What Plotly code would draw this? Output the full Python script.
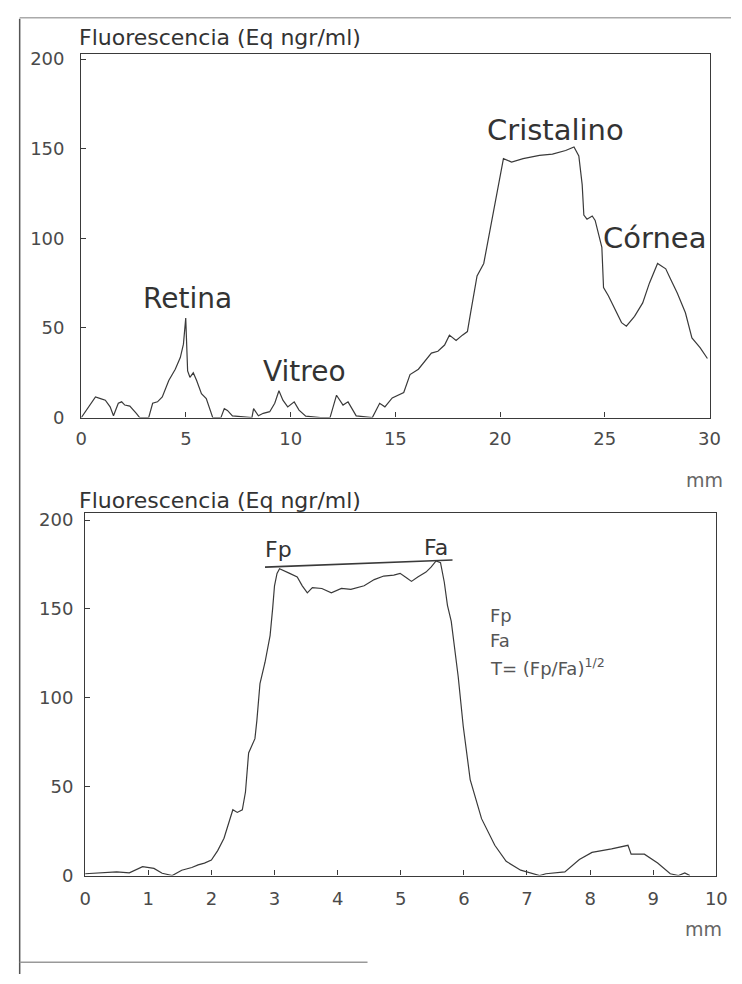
import plotly.graph_objects as go

# ---------------- data ----------------
# Upper scan: fluorescence along the eye axis (0-30 mm)
top_x = [0, 0.37, 0.68, 0.92, 1.15, 1.38, 1.54, 1.77, 1.93, 2.08, 2.32, 2.63, 2.79,
         3.22, 3.41, 3.64, 3.87, 4.18, 4.49, 4.73, 4.88, 4.99, 5.08, 5.19, 5.35, 5.51,
         5.74, 5.97, 6.28, 6.67, 6.83, 6.98, 7.22, 8.15, 8.23, 8.46, 8.69, 9.0, 9.24,
         9.44, 9.63, 9.86, 10.17, 10.4, 10.72, 11.42, 11.88, 12.19, 12.5, 12.74, 12.97,
         13.13, 13.9, 14.25, 14.5, 14.85, 15.4, 15.7, 16.1, 16.4, 16.72, 17.03, 17.35,
         17.58, 17.9, 18.2, 18.44, 18.6, 18.9, 19.22, 19.6, 19.93, 20.16, 20.55, 21.1,
         21.88, 22.5, 23.13, 23.53, 23.76, 23.92, 24.0, 24.15, 24.4, 24.54, 24.86,
         24.94, 25.17, 25.5, 25.8, 26.03, 26.42, 26.81, 27.13, 27.52, 27.91, 28.15,
         28.46, 28.85, 29.16, 29.55, 29.9]
top_y = [0, 6, 11.5, 10.6, 9.7, 6, 1, 8, 8.8, 7, 6.4, 2.4, 0,
         0, 8, 8.8, 11.5, 20.7, 27, 33.5, 41, 55.5, 26, 22.5, 25, 20.7,
         13.4, 10.6, 0, 0, 5, 4, 1, 0, 5, 1, 2.4, 3.3, 8,
         15, 9.7, 6, 8.8, 4.2, 0.8, 0, 0, 12.5, 7, 8.8, 4.2,
         1, 0, 8, 6, 11, 14, 24, 27, 31.5, 36, 37, 40.5,
         46, 43, 46, 48, 59, 79, 86, 110, 130, 144.5, 142.6, 144.5,
         146.3, 147, 149, 151, 146, 130, 113, 110.7, 112.5, 110, 95,
         72.5, 68, 60.5, 53, 51, 56.5, 64, 75, 86, 83, 77,
         69.5, 58.5, 44.5, 39, 33]

# Lower scan: fluorescence across the lens (0-10 mm)
bot_x = [0, 0.3, 0.5, 0.7, 0.91, 1.09, 1.22, 1.38, 1.53, 1.69, 1.79, 1.89, 2.0, 2.1,
         2.2, 2.34, 2.41, 2.49, 2.54, 2.59, 2.69, 2.72, 2.77, 2.85, 2.93, 2.97, 3.0,
         3.04, 3.08, 3.24, 3.36, 3.44, 3.52, 3.6, 3.75, 3.9, 4.06, 4.21, 4.42, 4.58,
         4.73, 4.89, 4.99, 5.09, 5.17, 5.27, 5.4, 5.48, 5.56, 5.63, 5.69, 5.74, 5.8,
         5.91, 5.99, 6.1, 6.28, 6.49, 6.67, 6.9, 7.1, 7.2, 7.3, 7.6, 7.83, 8.03, 8.34,
         8.5, 8.6, 8.65, 8.86, 9.07, 9.27, 9.4, 9.5, 9.58]
bot_y = [1, 1.5, 2, 1.5, 5, 4, 1.3, 0, 3, 4.5, 6, 7, 8.7, 14,
         21, 37, 35.5, 37, 47, 69, 77, 87, 108, 120, 135, 150, 163,
         170, 172.6, 170, 168, 163, 159, 162, 161.5, 159, 161.5, 161, 163, 166.5,
         168.5, 169, 170, 167.5, 165.5, 168, 170.7, 173.5, 177, 176, 165, 152, 143,
         112, 84, 54, 32, 17, 8, 3, 1, 0, 1, 2, 9, 13, 15,
         16, 17, 12, 12, 7, 1, 0, 1.5, 0]

# Tangent joining Fp and Fa
tan_x = [2.85, 5.82]
tan_y = [173.5, 177.5]

top_ticks_x = [0, 5, 10, 15, 20, 25, 30]
bot_ticks_x = [0, 1, 2, 3, 4, 5, 6, 7, 8, 9, 10]
ticks_y = [0, 50, 100, 150, 200]

# ---------------- figure ----------------
W, H = 742, 984
FONT = "DejaVu Sans"
LINE = "#3a3a3a"
TXT = "#333333"
TICK = "#4a4a4a"

fig = go.Figure()
fig.add_trace(go.Scatter(x=top_x, y=top_y, mode="lines", xaxis="x", yaxis="y",
                         line=dict(color=LINE, width=1.2), showlegend=False,
                         cliponaxis=False))
fig.add_trace(go.Scatter(x=bot_x, y=bot_y, mode="lines", xaxis="x2", yaxis="y2",
                         line=dict(color=LINE, width=1.2), showlegend=False,
                         cliponaxis=False))
fig.add_trace(go.Scatter(x=tan_x, y=tan_y, mode="lines", xaxis="x2", yaxis="y2",
                         line=dict(color=LINE, width=1.6), showlegend=False,
                         cliponaxis=False))

axis_common = dict(showline=True, linecolor=LINE, linewidth=1.3, mirror=True,
                   ticks="inside", ticklen=5, tickcolor=LINE, showgrid=False,
                   zeroline=False, tickfont=dict(family=FONT, size=18, color=TICK))

fig.update_layout(
    width=W, height=H,
    margin=dict(l=0, r=0, t=0, b=0),
    paper_bgcolor="white", plot_bgcolor="white",
    xaxis=dict(axis_common, domain=[77 / W, 720 / W], range=[0, 30],
               tickvals=top_ticks_x, anchor="y", ticklabelstandoff=5),
    yaxis=dict(axis_common, domain=[(H - 419) / H, (H - 49.5) / H], range=[0, 203],
               tickvals=ticks_y, anchor="x", ticklabelstandoff=12),
    xaxis2=dict(axis_common, domain=[81 / W, 727 / W], range=[0, 10],
                tickvals=bot_ticks_x, anchor="y2", ticklabelstandoff=7),
    yaxis2=dict(axis_common, domain=[(H - 884) / H, (H - 515.8) / H], range=[0, 204],
                tickvals=ticks_y, anchor="x2", ticklabelstandoff=7),
)

def ann(text, x, y, xref, yref, size, color=TXT, xanchor="center"):
    fig.add_annotation(text=text, x=x, y=y, xref=xref, yref=yref, showarrow=False,
                       xanchor=xanchor, yanchor="middle",
                       font=dict(family=FONT, size=size, color=color))

# upper chart labels
ann("Fluorescencia (Eq ngr/ml)", 73 / W, (H - 33) / H, "paper", "paper", 22,
    xanchor="left")
ann("Retina", 5.09, 66.5, "x", "y", 28)
ann("Vitreo", 10.64, 25.8, "x", "y", 28)
ann("Cristalino", 22.63, 160.4, "x", "y", 29)
ann("Córnea", 27.35, 100, "x", "y", 29)
ann("mm", 715 / W, (H - 482) / H, "paper", "paper", 19, color="#666666")

# lower chart labels
ann("Fluorescencia (Eq ngr/ml)", 73 / W, (H - 503) / H, "paper", "paper", 22,
    xanchor="left")
ann("Fp", 3.06, 183.4, "x2", "y2", 22)
ann("Fa", 5.56, 184.5, "x2", "y2", 22)
ann("Fp", 6.38, 146.3, "x2", "y2", 18, color="#555555", xanchor="left")
ann("Fa", 6.38, 132.4, "x2", "y2", 18, color="#555555", xanchor="left")
ann("T= (Fp/Fa)<sup>1/2</sup>", 6.38, 117.5, "x2", "y2", 18, color="#555555",
    xanchor="left")
ann("mm", 714 / W, (H - 938) / H, "paper", "paper", 19, color="#666666")

# scanned page edges
fig.add_shape(type="line", xref="paper", yref="paper", x0=14 / W, x1=14 / W,
              y0=0, y1=(H - 14) / H, line=dict(color="#555555", width=1.5))
fig.add_shape(type="line", xref="paper", yref="paper", x0=14 / W, x1=1,
              y0=(H - 13) / H, y1=(H - 13) / H, line=dict(color="#aaaaaa", width=1.5))
fig.add_shape(type="line", xref="paper", yref="paper", x0=14 / W, x1=370 / W,
              y0=(H - 972) / H, y1=(H - 972) / H, line=dict(color="#999999", width=1.5))

fig.write_html("out.html")
